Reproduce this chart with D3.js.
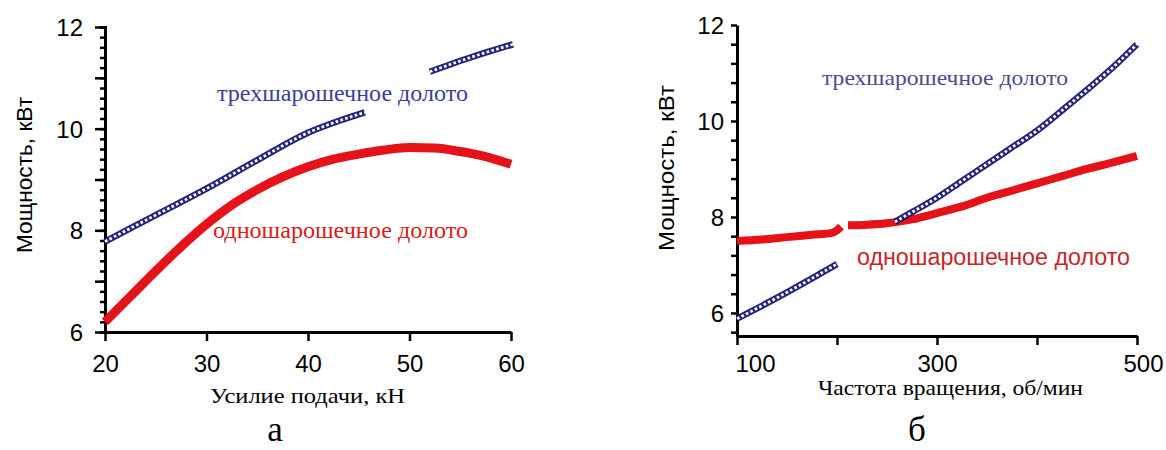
<!DOCTYPE html>
<html><head><meta charset="utf-8">
<script src="https://cdn.jsdelivr.net/npm/d3@7"></script>
<style>
body{margin:0;background:#fff;}
svg{display:block;}
</style></head>
<body><svg id="c" width="1166" height="450"></svg>
<script>
// ---- Data: chart (а) power vs feed force ----
const forceOneCone = [20,22.5,25,27.5,30,32.5,35,37.5,40,42.5,45,47.5,50,52.5,55,57.5,60];
const powerOneCone = [6.2,6.7,7.2,7.68,8.12,8.5,8.8,9.05,9.25,9.4,9.5,9.58,9.63,9.62,9.55,9.45,9.3];
const forceThreeConeA = [20,25,30,35,40,43,45.6];
const powerThreeConeA = [7.78,8.3,8.82,9.38,9.92,10.15,10.32];
const forceThreeConeB = [52,56,60.2];
const powerThreeConeB = [11.12,11.4,11.66];
const forceTicks = [20,30,40,50,60];
const powerTicksA = [6,8,10,12];

// ---- Data: chart (б) power vs rotation speed ----
const rpmOneConeA = [100,125,150,175,195,200,204];
const powOneConeA = [7.5,7.53,7.58,7.63,7.67,7.72,7.8];
const rpmOneConeB = [211,230,250,275,300,325,350,375,400,425,450,475,500];
const powOneConeB = [7.83,7.84,7.87,7.95,8.08,8.22,8.4,8.55,8.7,8.85,9.0,9.13,9.27];
const rpmThreeConeA = [100,125,150,175,200];
const powThreeConeA = [5.88,6.15,6.43,6.72,7.02];
const rpmThreeConeB = [258,275,300,325,350,375,400,425,450,475,500];
const powThreeConeB = [7.9,8.1,8.4,8.75,9.1,9.45,9.8,10.22,10.65,11.1,11.6];
const rpmTicks = [100,200,300,400,500];
const rpmTickLabels = ["100","","300","","500"];
const powerTicksB = [6,8,10,12];

const labelThree = "трехшарошечное долото";
const labelOne = "одношарошечное долото";
const yTitle = "Мощность, кВт";

const svg = d3.select("#c");
const SANS = "'Liberation Sans', Arial, sans-serif";
const SERIF = "'Liberation Serif', 'Times New Roman', serif";
const RED = "#e5121a";
const NAVY = "#12126e";

function zip(xs, ys){ return xs.map((x,i)=>[x, ys[i]]); }

function drawRed(g, x, y, xs, ys, w){
  g.append("path").datum(zip(xs,ys))
    .attr("fill","none").attr("stroke",RED).attr("stroke-width",w)
    .attr("d", d3.line().x(d=>x(d[0])).y(d=>y(d[1])).curve(d3.curveMonotoneX));
}
function drawBlue(g, x, y, xs, ys){
  const line = d3.line().x(d=>x(d[0])).y(d=>y(d[1])).curve(d3.curveMonotoneX);
  g.append("path").datum(zip(xs,ys))
    .attr("fill","none").attr("stroke",NAVY).attr("stroke-width",6.5).attr("opacity",0.92)
    .attr("d", line);
  g.append("path").datum(zip(xs,ys))
    .attr("fill","none").attr("stroke","#fff").attr("stroke-width",2.7)
    .attr("stroke-dasharray","2.7,2.3")
    .attr("d", line);
}
function styleAxis(g){
  g.select(".domain").attr("stroke","#000").attr("stroke-width",3);
  g.selectAll(".tick line").attr("stroke","#000").attr("stroke-width",2.5);
}
function txt(x, y, s, font, size, color, len, anchor){
  const t = svg.append("text").attr("x",x).attr("y",y).text(s)
    .attr("font-family",font).attr("font-size",size).attr("fill",color)
    .attr("text-anchor",anchor||"start");
  if(len) t.attr("textLength",len).attr("lengthAdjust","spacingAndGlyphs");
  return t;
}

// ================= Chart а =================
{
  const x = d3.scaleLinear().domain([20,60]).range([105,511]);
  const y = d3.scaleLinear().domain([6,12]).range([332,27]);
  const g = svg.append("g");

  const gy2 = g.append("g").attr("transform","translate(105,0)")
    .call(d3.axisLeft(y).tickValues(d3.range(6,12.01,0.2)).tickSize(5).tickFormat(""));
  styleAxis(gy2);
  const gy = g.append("g").attr("transform","translate(105,0)")
    .call(d3.axisLeft(y).tickValues(d3.range(6,12.01,1)).tickSize(10).tickSizeOuter(0)
      .tickFormat(d => powerTicksA.includes(d) ? d : ""));
  styleAxis(gy);
  gy.selectAll(".tick text").attr("font-family",SANS).attr("font-size",24).attr("fill","#000")
    .attr("x",-22).attr("dy","0.36em");

  const gx = g.append("g").attr("transform","translate(0,332)")
    .call(d3.axisBottom(x).tickValues(forceTicks).tickSize(9).tickSizeOuter(0));
  styleAxis(gx);
  gx.selectAll(".tick text").attr("font-family",SANS).attr("font-size",24).attr("fill","#000")
    .attr("y",23).attr("dy","0.71em");

  drawRed(g, x, y, forceOneCone, powerOneCone, 9);
  drawBlue(g, x, y, forceThreeConeA, powerThreeConeA);
  drawBlue(g, x, y, forceThreeConeB, powerThreeConeB);

  txt(217, 101, labelThree, SERIF, 23, "#3c3c9c", 251);
  txt(213, 238, labelOne, SERIF, 23, "#d42020", 255);
  txt(210, 403, "Усилие подачи, кН", SERIF, 22, "#000", 195);
  txt(275, 441, "а", SERIF, 35, "#000", null, "middle");
  txt(0, 0, yTitle, SANS, 22, "#000", 156, "middle")
    .attr("transform","translate(32,175) rotate(-90)");
}

// ================= Chart б =================
{
  const x = d3.scaleLinear().domain([100,500]).range([737,1137]);
  const y = d3.scaleLinear().domain([5.52,12]).range([336,25]);
  const g = svg.append("g");

  const gy = g.append("g").attr("transform","translate(737,0)")
    .call(d3.axisLeft(y).tickValues(d3.range(5.6,12.01,0.4).map(v=>+v.toFixed(1))).tickSize(6).tickSizeOuter(0)
      .tickFormat(d => powerTicksB.includes(d) ? d : ""));
  styleAxis(gy);
  gy.selectAll(".tick text").attr("font-family",SANS).attr("font-size",24).attr("fill","#000")
    .attr("x",-13).attr("dy","0.34em");

  const gx = g.append("g").attr("transform","translate(0,336)")
    .call(d3.axisBottom(x).tickValues(rpmTicks).tickSize(9).tickSizeOuter(0)
      .tickFormat((d,i)=>rpmTickLabels[i]));
  styleAxis(gx);
  gx.selectAll(".tick text").attr("font-family",SANS).attr("font-size",24).attr("fill","#000")
    .attr("y",19).attr("dy","0.71em")
    .attr("dx",(d,i)=> i===0 ? 18 : (i===4 ? 6 : 0));

  drawRed(g, x, y, rpmOneConeA, powOneConeA, 8);
  drawRed(g, x, y, rpmOneConeB, powOneConeB, 8);
  drawBlue(g, x, y, rpmThreeConeA, powThreeConeA);
  drawBlue(g, x, y, rpmThreeConeB, powThreeConeB);

  txt(822, 85, labelThree, SERIF, 22, "#4a4a8c", 246);
  txt(857, 265, labelOne, SANS, 23, "#c4262c", 273);
  txt(818, 395, "Частота вращения, об/мин", SERIF, 21, "#000", 265);
  txt(917, 441, "б", SERIF, 35, "#000", null, "middle");
  txt(0, 0, yTitle, SANS, 22, "#000", 166, "middle")
    .attr("transform","translate(674,168) rotate(-90)");
}
</script></body></html>
